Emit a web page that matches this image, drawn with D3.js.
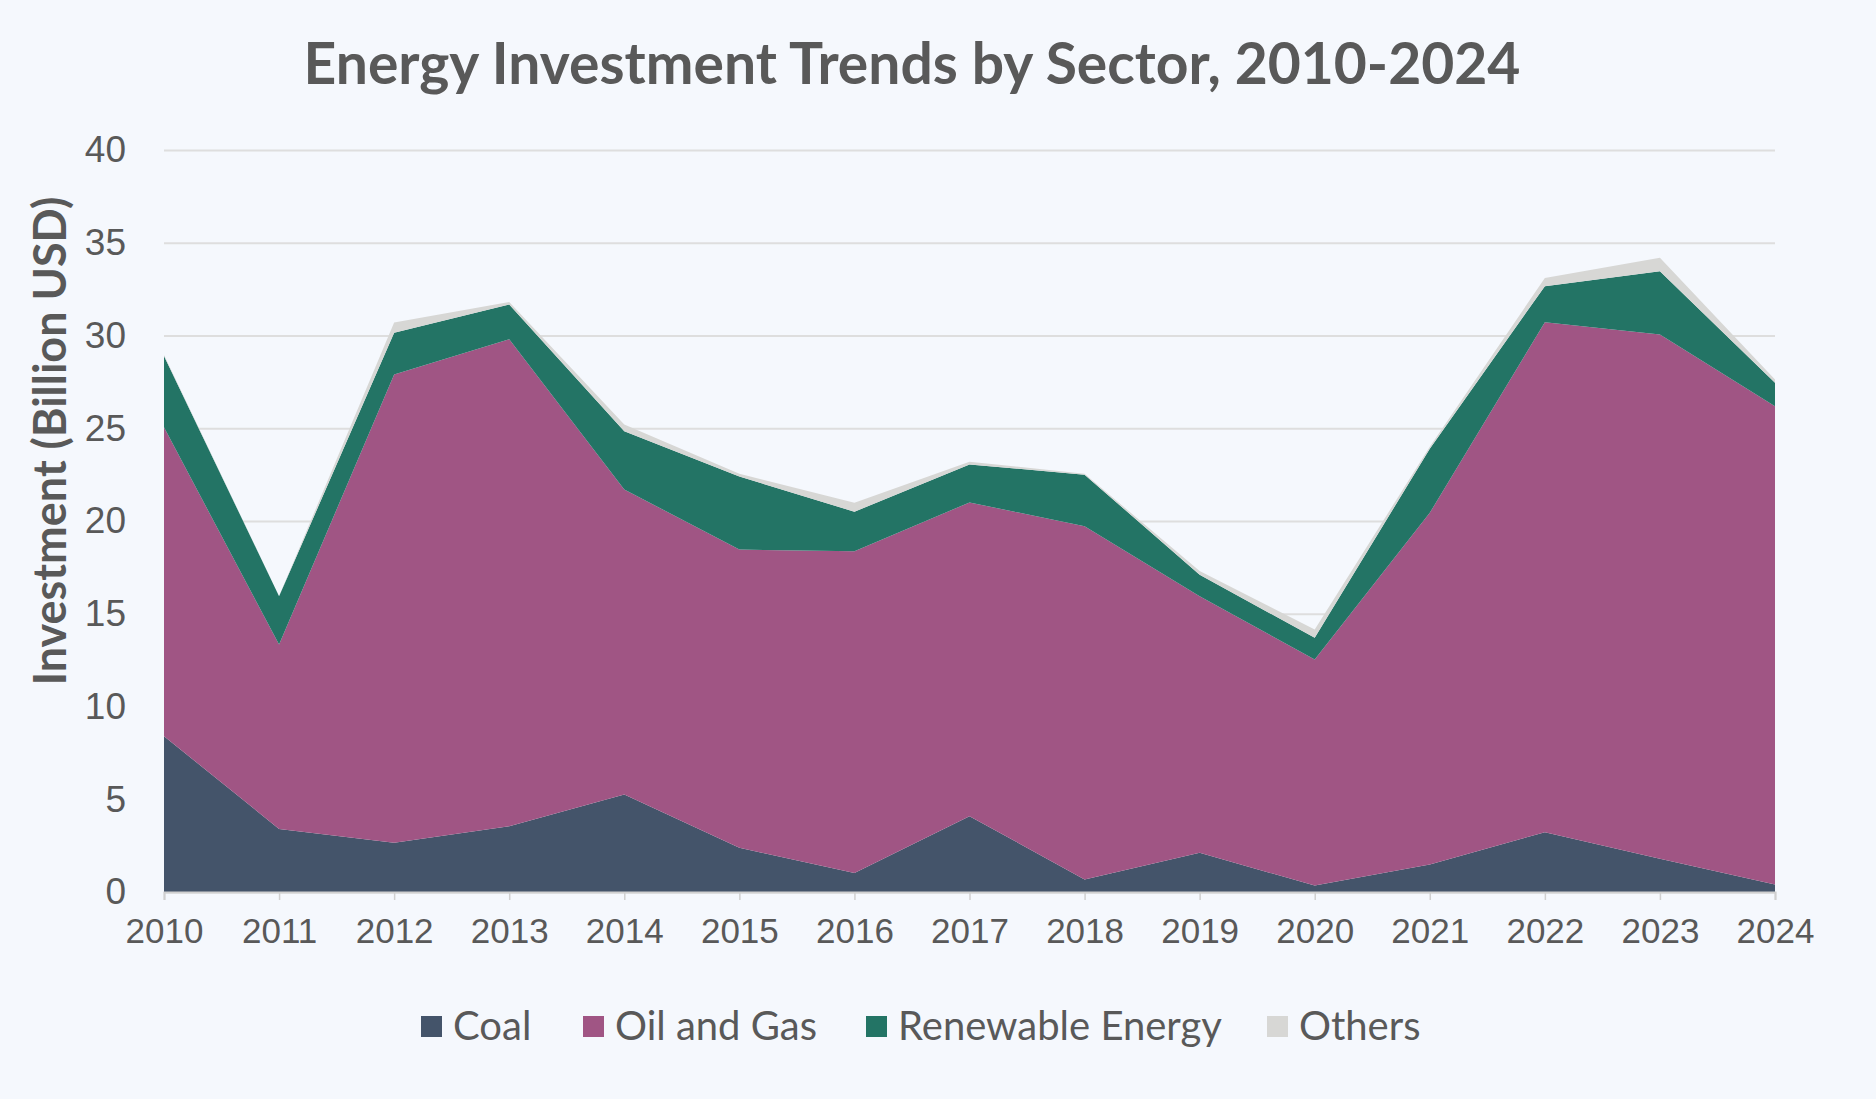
<!DOCTYPE html>
<html lang="en">
<head>
    <meta charset="UTF-8">
    <title>Energy Investment Trends by Sector</title>
    <script src="https://d3js.org/d3.v7.min.js"></script>
    <style>
        body { margin: 0; background: #f5f8fd; }
        svg { display: block; font-family: Lato, "Open Sans", sans-serif; }
        .grid line { stroke: #dedede; stroke-width: 2; }
        .tick text { fill: #595959; }
    </style>
</head>
<body>
    <div id="chart"></div>
    <script type="text/javascript">
        // values (billion USD)
        const years = [2010, 2011, 2012, 2013, 2014, 2015, 2016, 2017, 2018, 2019, 2020, 2021, 2022, 2023, 2024];
        const coal = [8.4, 3.4, 2.65, 3.55, 5.26, 2.38, 1.03, 4.09, 0.67, 2.11, 0.35, 1.48, 3.22, 1.79, 0.4];
        const oilGas = [16.65, 9.94, 25.25, 26.25, 16.44, 16.08, 17.34, 16.91, 19.05, 13.84, 12.18, 18.96, 27.5, 28.26, 25.79];
        const renewable = [3.85, 2.61, 2.25, 1.87, 3.14, 3.94, 2.13, 2.05, 2.78, 1.15, 1.17, 3.46, 1.94, 3.42, 1.26];
        const others = [0.05, 0.0, 0.55, 0.13, 0.36, 0.15, 0.48, 0.15, 0.05, 0.2, 0.45, 0.1, 0.44, 0.72, 0.18];
        const yTicks = [0, 5, 10, 15, 20, 25, 30, 35, 40];

        const seriesNames = ["Coal", "Oil and Gas", "Renewable Energy", "Others"];
        const colors = ["#44546a", "#a05584", "#237465", "#d7d7d5"];

        const W = 1876, H = 1099;
        const margin = {top: 150, right: 101, bottom: 207, left: 164};
        const width = W - margin.left - margin.right,
              height = H - margin.top - margin.bottom;

        // table for d3.stack
        const table = years.map((yr, i) => ({
            year: yr,
            "Coal": coal[i],
            "Oil and Gas": oilGas[i],
            "Renewable Energy": renewable[i],
            "Others": others[i]
        }));
        const stacked = d3.stack().keys(seriesNames)(table);

        const x = d3.scaleLinear().domain([2010, 2024]).range([0, width]);
        const y = d3.scaleLinear().domain([0, 40]).range([height, 0]);

        const svg = d3.select("#chart").append("svg")
            .attr("width", W)
            .attr("height", H);

        svg.append("rect").attr("width", W).attr("height", H).attr("fill", "#f5f8fd");

        const g = svg.append("g")
            .attr("transform", "translate(" + margin.left + "," + margin.top + ")");

        // gridlines + y labels
        const yAxis = g.append("g")
            .attr("class", "grid")
            .call(d3.axisLeft(y).tickValues(yTicks).tickSize(-width).tickPadding(38));
        yAxis.select(".domain").remove();
        yAxis.selectAll("text").style("font-size", "37px");

        const area = d3.area()
            .x(d => x(d.data.year))
            .y0(d => y(d[0]))
            .y1(d => y(d[1]));

        g.selectAll(".layer")
            .data(stacked)
            .enter().append("path")
            .attr("class", "layer")
            .attr("d", area)
            .attr("fill", (d, i) => colors[i]);

        // x axis
        const xAxis = g.append("g")
            .attr("transform", "translate(0," + height + ")")
            .call(d3.axisBottom(x).tickValues(years).tickFormat(d3.format("d")).tickSize(8).tickPadding(18));
        xAxis.select(".domain").attr("stroke", "#d0d0d0").attr("stroke-width", 2);
        xAxis.selectAll(".tick line").attr("stroke", "#d0d0d0").attr("stroke-width", 1.5);
        xAxis.selectAll("text").style("font-size", "35px");

        // title
        svg.append("text")
            .attr("x", 912)
            .attr("y", 84)
            .attr("text-anchor", "middle")
            .attr("fill", "#595959")
            .style("font-size", "57px")
            .style("font-weight", "bold")
            .text("Energy Investment Trends by Sector, 2010-2024");

        // y axis title
        svg.append("text")
            .attr("transform", "translate(66,441) rotate(-90)")
            .attr("text-anchor", "middle")
            .attr("fill", "#595959")
            .style("font-size", "45px")
            .style("font-weight", "bold")
            .text("Investment (Billion USD)");

        // legend
        const legendX = [421, 583, 866, 1267];
        const legend = svg.append("g");
        seriesNames.forEach((name, i) => {
            legend.append("rect")
                .attr("x", legendX[i])
                .attr("y", 1016)
                .attr("width", 21)
                .attr("height", 21)
                .attr("fill", colors[i]);
            legend.append("text")
                .attr("x", legendX[i] + 32)
                .attr("y", 1040)
                .attr("fill", "#595959")
                .style("font-size", "40px")
                .text(name);
        });
    </script>
</body>
</html>
